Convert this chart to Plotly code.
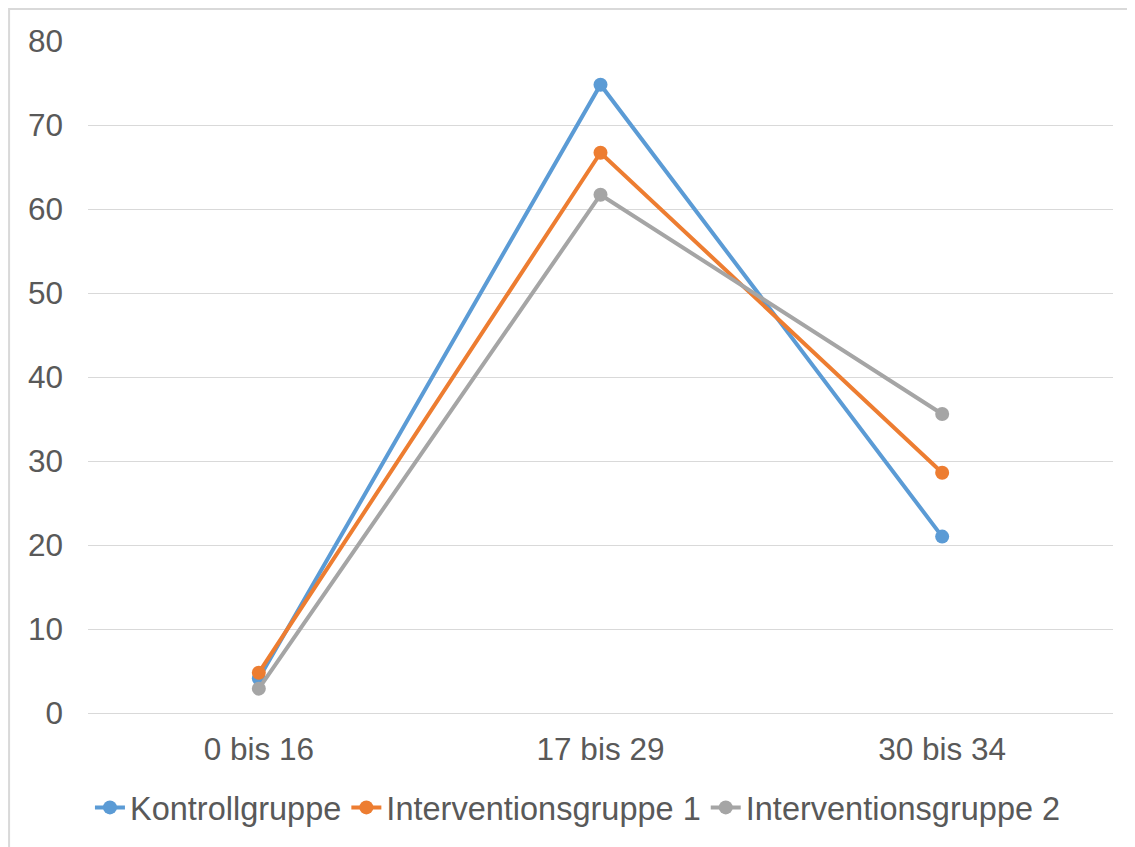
import plotly.graph_objects as go

categories = ["0 bis 16", "17 bis 29", "30 bis 34"]
kontroll = [4.1, 74.8, 21.0]
interv1 = [4.8, 66.7, 28.6]
interv2 = [2.9, 61.7, 35.6]

series = [
    ("Kontrollgruppe", kontroll, "#5B9BD5"),
    ("Interventionsgruppe 1", interv1, "#ED7D31"),
    ("Interventionsgruppe 2", interv2, "#A5A5A5"),
]

fig = go.Figure()
for name, vals, col in series:
    fig.add_trace(go.Scatter(
        x=categories, y=vals, name=name, mode="lines+markers",
        line=dict(color=col, width=4),
        marker=dict(color=col, size=14),
    ))

font_col = "#595959"
fs = 31.5
fig.update_layout(
    width=1135, height=847,
    margin=dict(l=80, r=30, t=33, b=142),
    paper_bgcolor="white", plot_bgcolor="white",
    font=dict(family="Liberation Sans, Arial", size=fs, color=font_col),
    showlegend=True,
    legend=dict(orientation="h", x=0.478, xanchor="center", y=-0.141, yanchor="middle",
                font=dict(size=32.5, color=font_col), itemwidth=30, tracegroupgap=0),
    xaxis=dict(type="category", range=[-0.5, 2.5], showgrid=False, showline=False,
               zeroline=False, ticks="", ticklabelstandoff=14,
               tickfont=dict(size=fs, color=font_col)),
    yaxis=dict(range=[0, 80], dtick=10, showgrid=True, gridcolor="#D9D9D9", gridwidth=1,
               zeroline=True, zerolinecolor="#D9D9D9", zerolinewidth=1,
               showline=False, ticks="", ticklabelstandoff=24,
               tickfont=dict(size=fs, color=font_col)),
    shapes=[dict(type="rect", xref="paper", yref="paper",
                 x0=-0.077, x1=1.05, y0=-0.25, y1=1.0476,
                 line=dict(color="#D9D9D9", width=2), fillcolor="rgba(0,0,0,0)", layer="below")],
)

fig.write_html("out.html")
